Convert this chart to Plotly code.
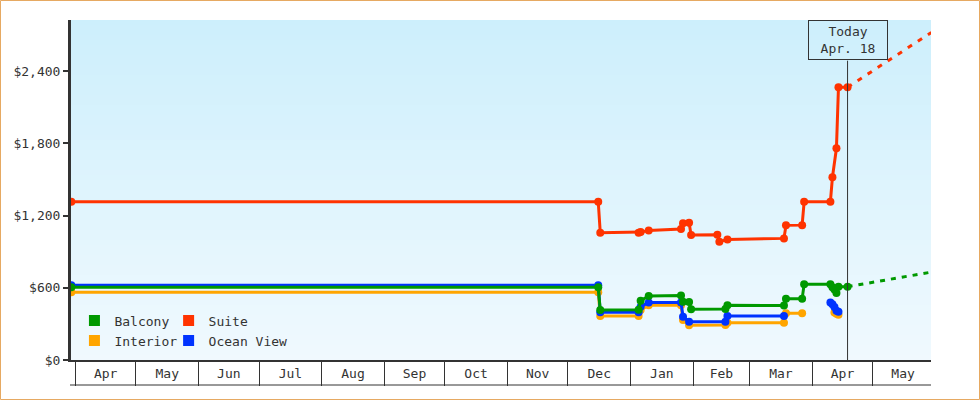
import plotly.graph_objects as go

# ---------------- data ----------------
balcony_dates = ["2018-03-30", "2018-12-16", "2018-12-17", "2019-01-05", "2019-01-06", "2019-01-10",
                 "2019-01-26", "2019-01-27", "2019-01-30", "2019-01-31", "2019-02-17", "2019-02-18",
                 "2019-03-18", "2019-03-19", "2019-03-27", "2019-03-28", "2019-04-10", "2019-04-11",
                 "2019-04-12", "2019-04-13", "2019-04-14", "2019-04-18 12:00"]
balcony_prices = [605, 605, 415, 418, 492, 531, 536, 484, 482, 421, 424, 455,
                  452, 508, 508, 630, 630, 605, 585, 556, 609, 609]

suite_dates = ["2018-03-30", "2018-12-16", "2018-12-17", "2019-01-05", "2019-01-06", "2019-01-10",
               "2019-01-26", "2019-01-27", "2019-01-30", "2019-01-31", "2019-02-13", "2019-02-14",
               "2019-02-18", "2019-03-18", "2019-03-19", "2019-03-27", "2019-03-28", "2019-04-10",
               "2019-04-11", "2019-04-13", "2019-04-14", "2019-04-18 12:00"]
suite_prices = [1315, 1315, 1057, 1057, 1062, 1075, 1087, 1135, 1140, 1038, 1040, 983,
                1000, 1010, 1118, 1120, 1315, 1315, 1517, 1758, 2265, 2265]

ocean_dates = ["2018-03-30", "2018-12-16", "2018-12-17", "2019-01-05", "2019-01-06", "2019-01-10",
               "2019-01-26", "2019-01-27", "2019-01-30", "2019-02-17", "2019-02-18", "2019-03-18",
               "2019-03-30", "2019-04-10", "2019-04-11", "2019-04-12", "2019-04-13", "2019-04-14"]
ocean_prices = [620, 620, 396, 396, 443, 478, 478, 360, 318, 318, 366, 366,
                None, 478, 462, 440, 410, 400]

interior_dates = ["2018-03-30", "2018-12-16", "2018-12-17", "2019-01-05", "2019-01-06", "2019-01-10",
                  "2019-01-26", "2019-01-27", "2019-01-30", "2019-02-17", "2019-02-18", "2019-03-18",
                  "2019-03-19", "2019-03-27", "2019-04-01", "2019-04-12", "2019-04-13", "2019-04-14"]
interior_prices = [562, 562, 365, 365, 415, 455, 455, 332, 288, 291, 309, 309,
                   388, 388, None, 395, 385, 375]

suite_forecast_dates = ["2019-04-18 12:00", "2019-05-30"]
suite_forecast_prices = [2265, 2720]
balcony_forecast_dates = ["2019-04-18 12:00", "2019-05-30"]
balcony_forecast_prices = [609, 730]

today = "2019-04-18 12:00"
today_label = "Today<br>Apr. 18"
x_range = ["2018-03-29 20:00", "2019-05-29 20:00"]
y_tickvals = [0, 600, 1200, 1800, 2400]
y_ticktext = ["$0", "$600", "$1,200", "$1,800", "$2,400"]

# ---------------- style ----------------
FONT = "DejaVu Sans Mono"
TXT = "#333333"
C_BAL = "#009900"
C_INT = "#ffa500"
C_OCE = "#0033ff"
C_SUI = "#ff3300"

L, R, T, B = 71, 49, 20, 40
W, H = 980, 400
PW, PH = W - L - R, H - T - B

fig = go.Figure()

def series(name, xs, ys, color):
    fig.add_trace(go.Scatter(
        x=xs, y=ys, name=name, mode="lines+markers", showlegend=False,
        line=dict(color=color, width=3), connectgaps=False,
        marker=dict(color=color, size=8, symbol="circle"),
        hoverinfo="x+y"))

series("Interior", interior_dates, interior_prices, C_INT)
series("Ocean View", ocean_dates, ocean_prices, C_OCE)
series("Balcony", balcony_dates, balcony_prices, C_BAL)
series("Suite", suite_dates, suite_prices, C_SUI)

fig.add_trace(go.Scatter(x=suite_forecast_dates, y=suite_forecast_prices, mode="lines",
                         line=dict(color=C_SUI, width=3, dash="5px,7px"), showlegend=False))
fig.add_trace(go.Scatter(x=balcony_forecast_dates, y=balcony_forecast_prices, mode="lines",
                         line=dict(color=C_BAL, width=3, dash="5px,6px"), showlegend=False))

# legend entries (squares)
for name, color, lg, rank in [("Balcony", C_BAL, "legend", 1), ("Interior", C_INT, "legend", 2),
                              ("Suite", C_SUI, "legend2", 1), ("Ocean View", C_OCE, "legend2", 2)]:
    fig.add_trace(go.Scatter(x=[None], y=[None], mode="markers", name=name, legend=lg,
                             legendrank=rank, showlegend=True,
                             marker=dict(symbol="square", size=11, color=color)))

# invisible trace on the month-separator axis
fig.add_trace(go.Scatter(x=[None], y=[None], xaxis="x2", mode="markers",
                         showlegend=False, hoverinfo="skip"))

# gradient background bands
shapes = []
n = 68
c0 = (205, 239, 252)
c1 = (240, 249, 254)
for i in range(n):
    t = i / (n - 1)
    col = tuple(round(c0[k] + (c1[k] - c0[k]) * t) for k in range(3))
    shapes.append(dict(type="rect", xref="paper", yref="paper", layer="below",
                       x0=0, x1=1, y0=1 - (i + 1) / n - 0.002, y1=1 - i / n,
                       fillcolor="rgb(%d,%d,%d)" % col, line=dict(width=0)))
# today line
shapes.append(dict(type="line", xref="x", yref="paper", x0=today, x1=today,
                   y0=0, y1=(PH - 40.7) / PH, line=dict(color=TXT, width=1)))
# bottom line of month boxes
shapes.append(dict(type="line", xref="paper", yref="paper", x0=-1 / PW, x1=1,
                   y0=-25 / PH, y1=-25 / PH, line=dict(color=TXT, width=1)))
# outer border
shapes.append(dict(type="rect", xref="paper", yref="paper",
                   x0=(0.5 - L) / PW, x1=(W - 0.5 - L) / PW,
                   y0=-(B - 0.5) / PH, y1=(PH + T - 0.5) / PH,
                   line=dict(color="#e6a962", width=1), fillcolor="rgba(0,0,0,0)"))

fig.update_layout(
    width=W, height=H,
    margin=dict(l=L, r=R, t=T, b=B),
    paper_bgcolor="white", plot_bgcolor="rgba(0,0,0,0)",
    font=dict(family=FONT, size=13, color=TXT),
    shapes=shapes,
    showlegend=True,
    legend=dict(x=0.004, y=0.16, xanchor="left", yanchor="top", bgcolor="rgba(0,0,0,0)",
                font=dict(family=FONT, size=13, color=TXT), tracegroupgap=0),
    legend2=dict(x=0.1135, y=0.16, xanchor="left", yanchor="top", bgcolor="rgba(0,0,0,0)",
                 font=dict(family=FONT, size=13, color=TXT), tracegroupgap=0),
    xaxis=dict(type="date", range=x_range,
               showgrid=False, zeroline=False, showline=True, linecolor=TXT, linewidth=2,
               ticks="", dtick="M1", tick0="2018-04-01", tickformat="%b",
               ticklabelmode="period", tickfont=dict(family=FONT, size=13, color=TXT)),
    xaxis2=dict(type="date", range=x_range, overlaying="x", matches="x", anchor="y",
                side="bottom", showgrid=False, zeroline=False, showline=False,
                ticks="outside", ticklen=25, tickwidth=1, tickcolor=TXT,
                dtick="M1", tick0="2018-04-01", showticklabels=False),
    yaxis=dict(range=[0, 340 / 72.25 * 600], showgrid=False, zeroline=False,
               showline=True, linecolor=TXT, linewidth=3,
               ticks="outside", ticklen=5, tickwidth=2, tickcolor=TXT,
               tickvals=y_tickvals, ticktext=y_ticktext,
               tickfont=dict(family=FONT, size=13, color=TXT)),
    annotations=[dict(x=today, xref="x", y=1, yref="paper", xanchor="center", yanchor="top",
                      text=today_label, showarrow=False, align="center",
                      font=dict(family=FONT, size=13, color=TXT),
                      bordercolor=TXT, borderwidth=1, borderpad=0, width=78, height=38,
                      bgcolor="rgba(0,0,0,0)")],
)

fig.write_html("out.html", config={"displayModeBar": False},
               post_script="document.body.style.margin='0';document.body.style.overflow='hidden';")
